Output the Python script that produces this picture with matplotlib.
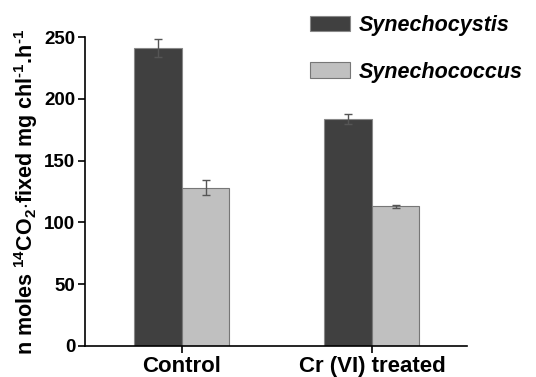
import numpy as np
import matplotlib.pyplot as plt

plt.rcParams['font.family'] = 'Liberation Sans'
plt.rcParams['mathtext.fontset'] = 'custom'
plt.rcParams['mathtext.rm'] = 'Liberation Sans:bold'
plt.rcParams['mathtext.bf'] = 'Liberation Sans:bold'
plt.rcParams['mathtext.default'] = 'bf'

# dados
grupos = ['Control', 'Cr (VI) treated']
series = ['Synechocystis', 'Synechococcus']
synechocystis = [241, 184]
synechocystis_err = [7, 4]
synechococcus = [128, 113]
synechococcus_err = [6, 1]

cores = ['#404040', '#c0c0c0']

fig = plt.figure(figsize=(5.36, 3.77), dpi=100)
ax = fig.add_axes([85/536, 31/377, (467-85)/536, (346-37)/377])

x = np.arange(len(grupos))
w = 0.25
ax.bar(x - w/2, synechocystis, w, yerr=synechocystis_err, color=cores[0],
       edgecolor='#888888', linewidth=0.8, label=series[0],
       error_kw=dict(ecolor='#555555', elinewidth=1, capsize=3, capthick=1))
ax.bar(x + w/2, synechococcus, w, yerr=synechococcus_err, color=cores[1],
       edgecolor='#777777', linewidth=0.8, label=series[1],
       error_kw=dict(ecolor='#555555', elinewidth=1, capsize=3, capthick=1))

ax.set_xlim(-0.51, 1.5)
ax.set_ylim(0, 250)
ax.set_yticks([0, 50, 100, 150, 200, 250])
ax.set_xticks(x)
ax.set_xticklabels(grupos, fontsize=16, fontweight='bold')
for t in ax.get_yticklabels():
    t.set_fontsize(13.5)
    t.set_fontweight('bold')
ax.tick_params(axis='both', direction='out', length=5, width=1.2, pad=2)
ax.spines['top'].set_visible(False)
ax.spines['right'].set_visible(False)
ax.spines['left'].set_linewidth(1.2)
ax.spines['bottom'].set_linewidth(1.2)

ax.set_ylabel('n moles $^{14}$CO$_2$$\\cdot$fixed mg chl$^{\\text{-}1}$.h$^{\\text{-}1}$',
              fontsize=15.5, fontweight='bold', labelpad=3)

leg = ax.legend(loc='upper left', bbox_to_anchor=(310/536, 1 - 15/377), bbox_transform=fig.transFigure,
                frameon=False, prop={'size': 15.5, 'weight': 'bold', 'style': 'italic'},
                handlelength=1.85, handleheight=0.75, labelspacing=1.2, handletextpad=0.4,
                borderpad=0, borderaxespad=0)

fig.savefig('out.png', dpi=100)
